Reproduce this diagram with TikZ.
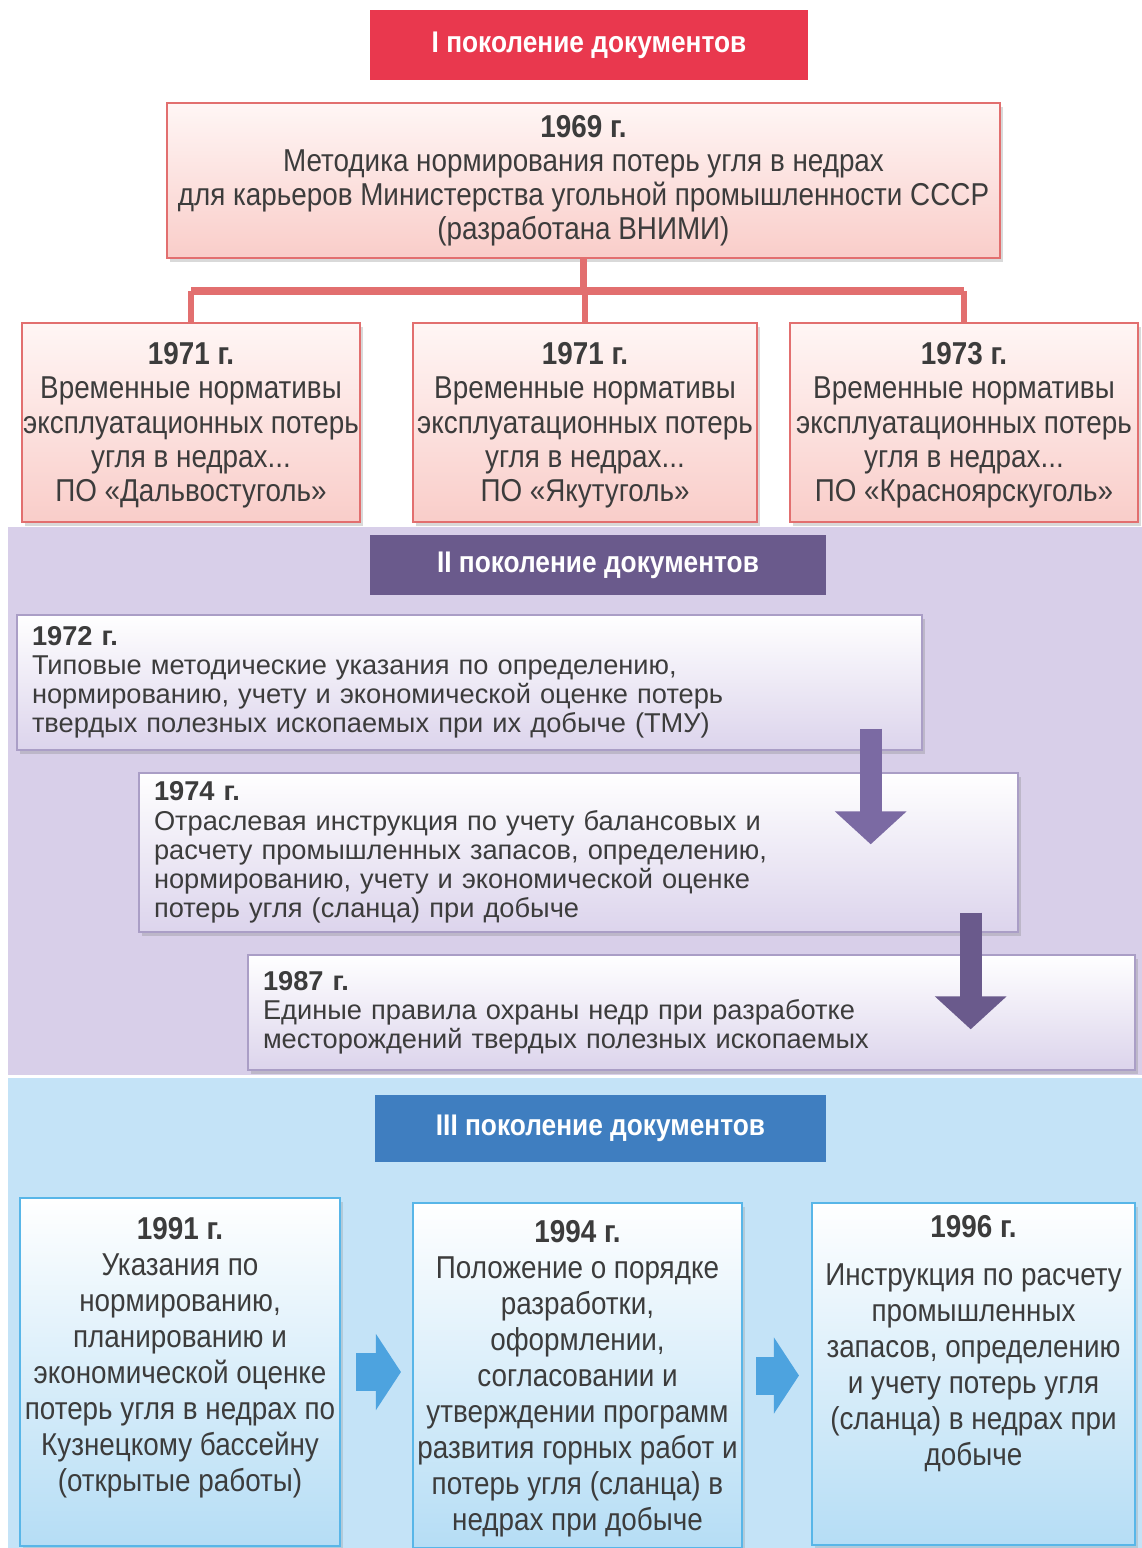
\documentclass[tikz,border=0pt]{standalone}
\usepackage{fontspec}
\setmainfont{Liberation Sans}[FakeStretch=0.88]
\newfontfamily\widefont{Liberation Sans}
\usepackage{tikz}
\usetikzlibrary{arrows.meta,positioning,calc,shadows}
\definecolor{mytext}{RGB}{60,60,60}
\definecolor{myred}{RGB}{233,56,78}
\definecolor{redline}{RGB}{226,111,111}
\definecolor{pinktop}{RGB}{255,246,245}
\definecolor{pinkbot}{RGB}{249,205,201}
\definecolor{mypurple}{RGB}{106,90,140}
\definecolor{lavband}{RGB}{216,207,233}
\definecolor{lavline}{RGB}{170,158,198}
\definecolor{lavbot}{RGB}{220,212,236}
\definecolor{purparrow}{RGB}{123,106,163}
\definecolor{myblue}{RGB}{63,126,192}
\definecolor{blueband}{RGB}{196,227,247}
\definecolor{blueline}{RGB}{88,182,232}
\definecolor{bluebot}{RGB}{181,221,245}
\definecolor{bluearrow}{RGB}{77,163,223}

\begin{document}
\begin{tikzpicture}[
    every node/.style={text=mytext,align=center},
    genbox/.style={text=white,font=\fontsize{17}{20}\selectfont\bfseries,inner sep=0pt},
    redbox/.style={draw=redline,line width=1.1pt,top color=pinktop,bottom color=pinkbot,inner sep=0pt,
      drop shadow={opacity=0.3,shadow xshift=1.5pt,shadow yshift=-2pt},font=\fontsize{18}{19.4}\selectfont},
    lavbox/.style={draw=lavline,line width=0.8pt,top color=white,bottom color=lavbot,inner xsep=0.3cm,
      align=left,drop shadow={opacity=0.3,shadow xshift=1.5pt,shadow yshift=-2pt},font=\widefont\fontsize{15.5}{16.6}\selectfont},
    bluebox/.style={draw=blueline,line width=1.2pt,top color=white,bottom color=bluebot,inner sep=0pt,
      drop shadow={opacity=0.25,shadow xshift=1.5pt,shadow yshift=-2pt}},
    redlink/.style={draw=redline,line width=3.5pt},
    purplearrow/.style={draw=purparrow,line width=0.44cm,-{Triangle[width=1.4cm,length=0.66cm]}},
    bluearr/.style={draw=bluearrow,line width=0.76cm,-{Triangle[width=1.5cm,length=0.5cm]}}
  ]
  \useasboundingbox (0,0) rectangle (22.84,-30.96);

  % the backgrounds of the generations
  \fill[lavband] (0.16,-10.54) rectangle (22.84,-21.5);
  \fill[blueband] (0.16,-21.56) rectangle (22.84,-30.96);

  % generation I
  \node[genbox,fill=myred,minimum width=8.76cm,minimum height=1.4cm] (gen1) at (11.78,-0.9) {I поколение документов};
  \node[redbox,minimum width=16.66cm,minimum height=3.1cm] (b1969) at (11.67,-3.61)
    {{\bfseries 1969 г.}\\Методика нормирования потерь угля в недрах\\для карьеров Министерства угольной промышленности СССР\\(разработана ВНИМИ)};
  \foreach \nm/\xx/\bw/\yr/\org in {bA/3.82/6.76/1971/Дальвостуголь,bB/11.7/6.88/1971/Якутуголь,bC/19.28/6.96/1973/Красноярскуголь}
    \node[redbox,minimum width=\bw cm,minimum height=3.98cm,text depth=0.02cm] (\nm) at (\xx,-8.45)
      {\rule{0pt}{0.12cm}{\bfseries \yr\ г.}\\Временные нормативы\\эксплуатационных потерь\\угля в недрах...\\ПО «\org»};

  % the links
  \draw[redlink] (b1969.south) -- ++(0,-0.64) coordinate (bus);
  \draw[redlink,line width=5pt] (bus -| bA.north) -- (bus -| bC.north);
  \foreach \nm in {bA,bB,bC}
    \draw[redlink] (bus -| \nm.north) -- (\nm.north);

  % generation II
  \node[genbox,fill=mypurple,minimum width=9.12cm,minimum height=1.2cm] (gen2) at (11.96,-11.3) {II поколение документов};
  \node[lavbox,text width=17.5cm,minimum height=2.7cm] (b1972) at (9.39,-13.65)
    {{\bfseries 1972 г.}\\Типовые методические указания по определению,\\нормированию, учету и экономической оценке потерь\\твердых полезных ископаемых при их добыче (ТМУ)};
  \node[lavbox,text width=16.98cm,minimum height=3.18cm] (b1974) at (11.57,-17.05)
    {{\bfseries 1974 г.}\\Отраслевая инструкция по учету балансовых и\\расчету промышленных запасов, определению,\\нормированию, учету и экономической оценке\\потерь угля (сланца) при добыче};
  \node[lavbox,text width=17.14cm,minimum height=2.3cm] (b1987) at (13.83,-20.25)
    {{\bfseries 1987 г.}\\Единые правила охраны недр при разработке\\месторождений твердых полезных ископаемых};

  \coordinate (a1) at ([xshift=-1.04cm,yshift=0.44cm]b1972.south east);
  \coordinate (a2) at ([xshift=-0.96cm,yshift=0.4cm]b1974.south east);
  \draw[purplearrow] (a1) -- ($(a1 |- b1974.north)+(0,-1.44)$);
  \draw[purplearrow,draw=mypurple] (a2) -- ($(a2 |- b1987.north)+(0,-1.5)$);

  % generation III
  \node[genbox,fill=myblue,minimum width=9.02cm,minimum height=1.34cm] (gen3) at (12.01,-22.57) {III поколение документов};
  \node[bluebox,minimum width=6.4cm,minimum height=6.96cm] (b1991) at (3.6,-27.44)
    {\parbox[c][6.18cm][t]{6.4cm}{\centering\fontsize{18}{20.5}\selectfont
      {\bfseries 1991 г.}\\Указания по\\нормированию,\\планированию и\\экономической оценке\\потерь угля в недрах по\\Кузнецкому бассейну\\(открытые работы)}};
  \node[bluebox,minimum width=6.58cm,minimum height=6.9cm] (b1994) at (11.55,-27.51)
    {\parbox[c][6.22cm][t]{6.58cm}{\centering\fontsize{18}{20.5}\selectfont
      {\bfseries 1994 г.}\\Положение о порядке\\разработки,\\оформлении,\\согласовании и\\утверждении программ\\развития горных работ и\\потерь угля (сланца) в\\недрах при добыче}};
  \node[bluebox,minimum width=6.46cm,minimum height=6.84cm] (b1996) at (19.47,-27.48)
    {\parbox[c][6.36cm][t]{6.46cm}{\centering\fontsize{18}{20.5}\selectfont
      {\bfseries 1996 г.}\\[0.25cm]Инструкция по расчету\\промышленных\\запасов, определению\\и учету потерь угля\\(сланца) в недрах при\\добыче}};

  \draw[bluearr,shorten <=0.3cm,shorten >=0.22cm] (b1991.east) -- (b1991.east -| b1994.west);
  \draw[bluearr,shorten <=0.26cm,shorten >=0.24cm] (b1994.east) -- (b1994.east -| b1996.west);
\end{tikzpicture}
\end{document}
